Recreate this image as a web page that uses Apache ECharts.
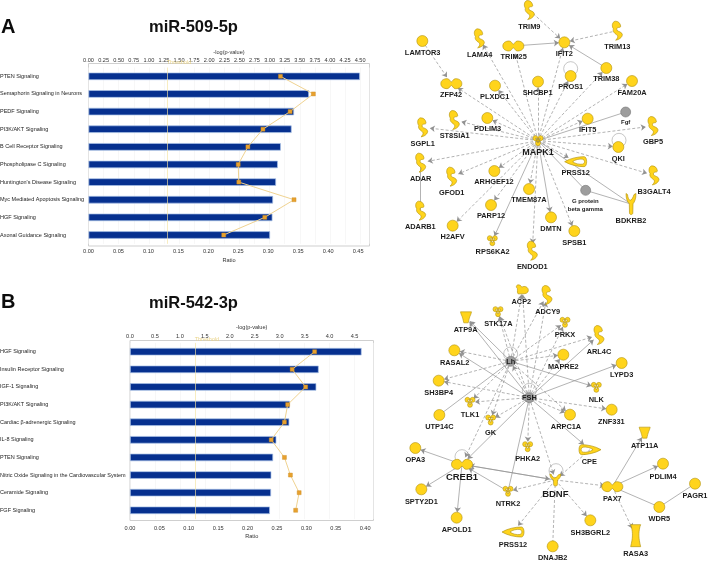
<!DOCTYPE html>
<html>
<head>
<meta charset="utf-8">
<style>html,body{margin:0;padding:0;background:#fff}#c{width:709px;height:562px;filter:blur(.35px)}</style>
<script src="https://cdn.jsdelivr.net/npm/echarts@6/dist/echarts.min.js"></script>
</head>
<body>
<div id="c"></div>
<script>
// ---------- Panel A bar chart ----------
const categoriesA = ["PTEN Signaling","Semaphorin Signaling in Neurons","PEDF Signaling","PI3K/AKT Signaling","B Cell Receptor Signaling","Phospholipase C Signaling","Huntington's Disease Signaling","Myc Mediated Apoptosis Signaling","HGF Signaling","Axonal Guidance Signaling"];
const ratioA = [0.453,0.368,0.343,0.339,0.321,0.316,0.313,0.308,0.307,0.303];
const logPA = [3.18,3.725,3.34,2.89,2.64,2.48,2.49,3.405,2.92,2.24];
// ---------- Panel B bar chart ----------
const categoriesB = ["HGF Signaling","Insulin Receptor Signaling","IGF-1 Signaling","PI3K/AKT Signaling","Cardiac β-adrenergic Signaling","IL-8 Signaling","PTEN Signaling","Nitric Oxide Signaling in the Cardiovascular System","Ceramide Signaling","FGF Signaling"];
const ratioB = [0.394,0.321,0.317,0.272,0.271,0.249,0.2435,0.2405,0.24,0.238];
const logPB = [3.70,3.25,3.52,3.16,3.095,2.83,3.095,3.215,3.39,3.32];
const thresholdLogP = 1.3;

// ---------- Networks: [name, x, y, shape, labelX, labelY] ----------
const nodesA = [
["TRIM9",388,30,"kidney",388,80],["TRIM13",652,92,"kidney",652,142],["IFIT2",493,127,"circle",493,162],
["LAMTOR3",67,123,"circle",68,158],["LAMA4",238,115,"kidney",239,165],["TRIM25",340,138,"dumbbell",341,171],
["ZFP42",154,251,"dumbbell",153,284],["PLXDC1",285,257,"circle",284,291],["SHCBP1",414,245,"circle",413,279],
["PROS1",512,228,"circle",512,261],["TRIM38",619,204,"circle",619,238],["FAM20A",696,243,"circle",696,278],
["PDLIM3",262,354,"circle",263,388],["ST8SIA1",163,360,"kidney",164,409],["SGPL1",68,382,"kidney",68,432],
["IFIT5",563,356,"circle",563,391],["Fgf",677,336,"grey",677,368],["GBP5",759,378,"kidney",759,426],
["QKI",655,441,"circle",655,476],["MAPK1",414,422,"tri",414,458],["ADAR",62,488,"kidney",62,537],
["GFOD1",155,530,"kidney",155,579],["ARHGEF12",283,513,"circle",282,547],["PRSS12",527,485,"ring",527,518],
["B3GALT4",762,526,"kidney",762,575],["G protein\nbeta gamma",557,571,"grey",556,615],["BDKRB2",693,612,"ylong",693,662],
["TMEM87A",387,567,"circle",387,601],["PARP12",273,615,"circle",273,649],["ADARB1",62,632,"kidney",61,682],
["H2AFV",158,677,"circle",158,711],["DMTN",453,652,"circle",453,686],["SPSB1",523,693,"circle",523,728],
["RPS6KA2",277,722,"tri",278,757],["ENDOD1",397,752,"kidney",397,801]
];
// [source, target, line type, arrow at target]
const linksA = [
["TRIM9","IFIT2","dashed",1],["TRIM13","IFIT2","dashed",1],["TRIM25","IFIT2","solid",1],["TRIM38","IFIT2","solid",1],
["LAMTOR3","ZFP42","dashed",1],["ADAR","ADARB1","solid",0],["BDKRB2","G protein\nbeta gamma","solid",0],["BDKRB2","MAPK1","solid",0],
["MAPK1","LAMA4","dashed",1],["MAPK1","TRIM25","dashed",1],["MAPK1","IFIT2","dashed",1],["MAPK1","ZFP42","dashed",1],
["MAPK1","PLXDC1","dashed",1],["MAPK1","SHCBP1","dashed",1],["MAPK1","PROS1","dashed",1],["MAPK1","TRIM38","dashed",1],
["MAPK1","FAM20A","dashed",1],["MAPK1","PDLIM3","dashed",1],["MAPK1","ST8SIA1","dashed",1],["MAPK1","SGPL1","dashed",1],
["MAPK1","IFIT5","dashed",1],["MAPK1","Fgf","solid",0],["MAPK1","GBP5","dashed",1],["MAPK1","QKI","dashed",1],
["MAPK1","ADAR","dashed",1],["MAPK1","GFOD1","dashed",1],["MAPK1","ARHGEF12","dashed",1],["MAPK1","PRSS12","dashed",1],
["MAPK1","B3GALT4","dashed",1],["MAPK1","G protein\nbeta gamma","solid",0],["MAPK1","TMEM87A","dashed",1],["MAPK1","PARP12","dashed",1],
["MAPK1","H2AFV","dashed",1],["MAPK1","DMTN","solid",1],["MAPK1","SPSB1","dashed",1],["MAPK1","RPS6KA2","solid",1],["MAPK1","ENDOD1","dashed",1]
];
const loopsA = [[512,206],[657,421]];

const nodesB = [
["ACP2",367,28,"blob",364,65],["ADCY9",441,45,"kidney",443,97],["STK17A",294,95,"tri",295,133],["PRKX",495,127,"tri",495,166],
["ATP9A",198,112,"cup",197,150],["ARL4C",597,165,"kidney",597,217],["RASAL2",163,211,"circle",164,249],["MAPRE2",490,224,"circle",490,260],
["LYPD3",665,249,"circle",665,285],["Lh",332,244,"grey",332,246],["SH3BP4",116,302,"circle",116,339],["NLK",589,322,"tri",589,361],
["FSH",388,353,"grey",388,353],["TLK1",210,367,"tri",210,405],["ZNF331",635,389,"circle",634,427],["UTP14C",118,405,"circle",118,442],
["ARPC1A",510,404,"circle",498,441],["GK",272,420,"tri",272,458],["ATP11A",734,458,"cup",734,497],["OPA3",46,504,"circle",46,541],
["PHKA2",383,500,"tri",383,538],["CPE",570,509,"ringFlip",568,546],["PDLIM4",789,551,"circle",789,590],["CREB1",186,553,"dumbbell",186,592],
["BDNF",466,600,"yshort",466,642],["PAGR1",885,611,"circle",885,649],["SPTY2D1",64,628,"circle",64,666],["NTRK2",324,634,"tri",324,673],
["PAX7",637,620,"dumbbell",637,656],["WDR5",778,681,"circle",778,718],["APOLD1",170,713,"circle",170,750],["SH3BGRL2",571,721,"circle",571,758],
["PRSS12",339,756,"ring",339,794],["RASA3",707,767,"tall",707,822],["DNAJB2",458,799,"circle",458,835]
];
const linksB = [
["Lh","ACP2","dashed",1],["Lh","ADCY9","dashed",1],["Lh","STK17A","dashed",1],["Lh","ATP9A","solid",1],["Lh","PRKX","dashed",1],
["Lh","ARL4C","dashed",1],["Lh","RASAL2","dashed",1],["Lh","MAPRE2","dashed",1],["Lh","SH3BP4","dashed",1],["Lh","NLK","solid",1],
["Lh","UTP14C","solid",0],["Lh","TLK1","dashed",1],["Lh","GK","dashed",1],["Lh","CREB1","dashed",1],["Lh","ARPC1A","dashed",1],
["FSH","Lh","dashed",1],["FSH","ACP2","dashed",1],["FSH","ADCY9","dashed",1],["FSH","STK17A","dashed",1],["FSH","ATP9A","solid",1],
["FSH","PRKX","dashed",1],["FSH","ARL4C","solid",1],["FSH","LYPD3","solid",1],["FSH","RASAL2","solid",1],["FSH","MAPRE2","dashed",1],
["FSH","SH3BP4","dashed",1],["FSH","TLK1","dashed",1],["FSH","GK","dashed",1],["FSH","ZNF331","dashed",1],["FSH","ARPC1A","dashed",1],
["FSH","PHKA2","dashed",1],["FSH","NTRK2","solid",0],["FSH","BDNF","dashed",1],["FSH","CREB1","solid",1],["FSH","CPE","solid",1],
["BDNF","CREB1","solid",1],["CREB1","BDNF","solid",1],["CPE","BDNF","dashed",1],["BDNF","NTRK2","dashed",1],["BDNF","PAX7","dashed",1],
["BDNF","PRSS12","dashed",1],["BDNF","DNAJB2","dashed",0],["BDNF","SH3BGRL2","dashed",1],["CREB1","OPA3","solid",1],["CREB1","SPTY2D1","solid",1],
["CREB1","APOLD1","solid",1],["NTRK2","CREB1","solid",1],["PAX7","ATP11A","solid",1],["PAX7","PDLIM4","solid",1],["PAX7","WDR5","solid",0],
["WDR5","PAGR1","solid",0],["PAX7","RASA3","dashed",1]
];
const loopsB = [[332,222],[388,331],[186,530],[468,572]];

// ---------- Styling ----------
const sans = '"Liberation Sans",Arial,sans-serif';
const YELLOW = '#ffd41c', EDGE = '#b2920e', GREY = '#9d9d9d';
function circ(cx,cy,r){return `M${cx-r} ${cy}A${r} ${r} 0 1 0 ${cx+r} ${cy}A${r} ${r} 0 1 0 ${cx-r} ${cy}Z`;}
const kidney = 'path://M35 0C65 0 80 10 85 25C88 32 75 33 65 33C50 33 48 42 52 48C60 55 95 55 100 70C100 85 70 98 40 100C60 90 65 78 50 72C25 62 12 52 20 40C5 30 5 5 35 0Z';
const dumb = 'path://M0 50C0 15 15 0 30 0C42 0 44 32 50 32C56 32 58 0 70 0C85 0 100 15 100 50C100 85 85 100 70 100C58 100 56 68 50 68C44 68 42 100 30 100C15 100 0 85 0 50Z';
const ring = 'path://M0 50C25 15 60 0 85 0C100 0 100 100 85 100C60 100 25 85 0 50ZM35 50C45 70 65 80 78 75C90 65 90 35 78 25C65 20 45 30 35 50Z';
const yPath = 'path://M0 0L15 5C18 20 30 30 40 32C55 32 70 20 80 5L100 0C100 25 85 40 70 48L68 90C68 100 35 100 35 90L33 48C15 40 0 25 0 0Z';
const shapes = {
  circle:{symbol:'circle',size:[11,11]},
  grey:{symbol:'circle',size:[10,10],grey:true},
  kidney:{symbol:kidney,size:[10,19]},
  dumbbell:{symbol:dumb,size:[21,10]},
  tri:{symbol:'path://'+circ(25,27,24)+circ(75,27,24)+circ(50,75,24)+'M25 27L75 27L50 75Z',size:[10,10]},
  ring:{symbol:ring,size:[22,10]},
  ringFlip:{symbol:ring,size:[22,10],flip:true},
  ylong:{symbol:yPath,size:[10,21]},
  yshort:{symbol:yPath,size:[11,12]},
  cup:{symbol:'path://M0 0L100 0L95 20C80 50 75 80 70 100L30 100C25 80 20 50 5 20Z',size:[11,11]},
  tall:{symbol:'path://M0 0L100 0L92 10C78 40 78 60 100 100L0 100C22 60 22 40 8 10Z',size:[10,22]},
  blob:{symbol:'path://M10 0C30 -5 40 10 45 25C70 5 100 25 100 60C100 90 80 100 50 100L15 100C0 80 20 40 0 25C0 10 5 3 10 0Z',size:[12,9]}
};
const bigLabels = {MAPK1:9,CREB1:9.5,BDNF:9.5};
const smallLabels = {'Fgf':6,'G protein\nbeta gamma':6};

function graphData(nodes){
  return nodes.map(n=>{
    const s = shapes[n[3]];
    const dx = (n[4]-n[1])/3, dy = (n[5]-n[2])/3;
    return {
      name:n[0], value:[n[1],n[2]], symbol:s.symbol, symbolSize:s.size,
      symbolRotate:s.flip?180:0,
      itemStyle:{color:s.grey?GREY:YELLOW,borderColor:s.grey?'#777':EDGE,borderWidth:.6},
      label:{show:true,position:'inside',offset:[dx,dy],align:'center',verticalAlign:'middle',
        fontFamily:sans,fontWeight:'bold',color:'#1c1c1c',lineHeight:8,
        fontSize:bigLabels[n[0]]||smallLabels[n[0]]||7.4,formatter:()=>n[0]}
    };
  });
}
function graphLinks(links){
  return links.map(l=>({source:l[0],target:l[1],
    symbol:['none',l[3]?'arrow':'none'],symbolSize:[0,5],
    lineStyle:{type:l[2]==='dashed'?[3,2]:'solid',color:'#929292',width:.7,curveness:0,opacity:1}}));
}
function hiddenAxis(i,type,min,max,inverse){return {show:false,gridIndex:i,type,min,max,inverse:!!inverse};}

function barAxes(grid,xMax,topMax,topInt,topDigits,nameGapT,nameGapB,cats,marginLeft,offT,offB){
  const lab = {fontFamily:sans,fontSize:5.6,color:'#333'};
  return {
    x:[
      {gridIndex:grid,type:'value',position:'bottom',min:0,max:xMax,interval:0.05,offset:offB,
       name:'Ratio',nameLocation:'middle',nameGap:nameGapB,nameTextStyle:lab,
       axisLine:{show:false},axisTick:{show:false},splitLine:{show:false},
       axisLabel:Object.assign({},lab,{margin:3,showMaxLabel:false,formatter:v=>v.toFixed(2)})},
      {gridIndex:grid,type:'value',position:'top',min:0,max:topMax,interval:topInt,offset:offT,
       name:'-log(p-value)',nameLocation:'middle',nameGap:nameGapT,nameTextStyle:lab,
       axisLine:{show:false},axisTick:{show:false},
       splitLine:{show:true,lineStyle:{color:'#f1f1f1',width:.6}},
       axisLabel:Object.assign({},lab,{margin:2,showMaxLabel:false,formatter:v=>v.toFixed(topDigits)})}
    ],
    y:{gridIndex:grid,type:'category',data:cats,inverse:true,
       axisLine:{show:false},axisTick:{show:false},
       axisLabel:Object.assign({},lab,{fontSize:5.5,color:'#222',margin:marginLeft,align:'left'})}
  };
}
const aA = barAxes(1,0.469,4.655,0.25,2,10,12,categoriesA,88.5,2,2);
const aB = barAxes(3,0.4143,4.88,0.5,1,11,11,categoriesB,130,1,3);

function barSeries(xi,yi,vals){
  return {type:'bar',xAxisIndex:xi,yAxisIndex:yi,data:vals,barWidth:7.5,z:2,
    itemStyle:{color:'#06308f',borderColor:'#a9c2e6',borderWidth:.7},silent:true,animation:false};
}
function lineSeries(xi,yi,vals,labelDy){
  return {type:'line',xAxisIndex:xi,yAxisIndex:yi,data:vals,z:4,symbol:'rect',symbolSize:4,
    lineStyle:{color:'#f0d391',width:1},itemStyle:{color:'#e8a12e',borderColor:'#c98a20',borderWidth:.4},animation:false,
    markLine:{silent:true,symbol:'none',animation:false,z:3,
      lineStyle:{color:'rgba(245,228,160,.65)',width:1,type:'solid'},
      label:{show:true,position:'start',formatter:'Threshold',offset:[12,labelDy],fontFamily:sans,fontSize:5.5,color:'#ead48a'},
      data:[{xAxis:thresholdLogP}]}};
}
function graphSeries(xi,yi,nodes,links){
  return {type:'graph',coordinateSystem:'cartesian2d',xAxisIndex:xi,yAxisIndex:yi,layout:'none',z:5,
    data:graphData(nodes),links:graphLinks(links),silent:true,animation:false};
}
function loopSeries(xi,yi,pts){
  return {type:'scatter',xAxisIndex:xi,yAxisIndex:yi,data:pts,symbol:'circle',symbolSize:14,z:4,silent:true,animation:false,
    itemStyle:{color:'rgba(0,0,0,0)',borderColor:'#9a9a9a',borderWidth:.7}};
}

const option = {
  backgroundColor:'#fff',
  animation:false,
  title:[
    {text:'A',left:-4,top:12,textStyle:{fontFamily:sans,fontWeight:'bold',fontSize:20,color:'#0c0c0c'}},
    {text:'miR-509-5p',left:144,top:14,textStyle:{fontFamily:sans,fontWeight:'bold',fontSize:16.5,color:'#111'}},
    {text:'B',left:-4,top:287,textStyle:{fontFamily:sans,fontWeight:'bold',fontSize:20,color:'#0c0c0c'}},
    {text:'miR-542-3p',left:144,top:290,textStyle:{fontFamily:sans,fontWeight:'bold',fontSize:16.5,color:'#111'}}
  ],
  grid:[
    {show:true,outerBoundsMode:'none',left:88.5,top:63.5,width:281,height:182.5,borderColor:'#cfcfcf',borderWidth:1},
    {outerBoundsMode:'none',left:88.5,top:67.5,width:281,height:176.3},
    {show:true,outerBoundsMode:'none',left:130,top:340.5,width:243.5,height:180,borderColor:'#cfcfcf',borderWidth:1},
    {outerBoundsMode:'none',left:130,top:342.9,width:243.5,height:176.2},
    {outerBoundsMode:'none',left:400,top:0,width:309,height:285},
    {outerBoundsMode:'none',left:400,top:280,width:309,height:282}
  ],
  xAxis:[
    hiddenAxis(0,'value',0,1),
    aA.x[0],aA.x[1],
    hiddenAxis(2,'value',0,1),
    aB.x[0],aB.x[1],
    hiddenAxis(4,'value',0,927),
    hiddenAxis(5,'value',0,927)
  ],
  yAxis:[
    hiddenAxis(0,'value',0,1),
    aA.y,
    hiddenAxis(2,'value',0,1),
    aB.y,
    hiddenAxis(4,'value',0,855,true),
    hiddenAxis(5,'value',0,846,true)
  ],
  series:[
    barSeries(1,1,ratioA), lineSeries(2,1,logPA,3),
    barSeries(4,3,ratioB), lineSeries(5,3,logPB,5),
    loopSeries(6,4,loopsA), graphSeries(6,4,nodesA,linksA),
    loopSeries(7,5,loopsB), graphSeries(7,5,nodesB,linksB)
  ]
};
const chart = echarts.init(document.getElementById('c'),null,{renderer:'canvas',width:709,height:562});
chart.setOption(option);
</script>
</body>
</html>
